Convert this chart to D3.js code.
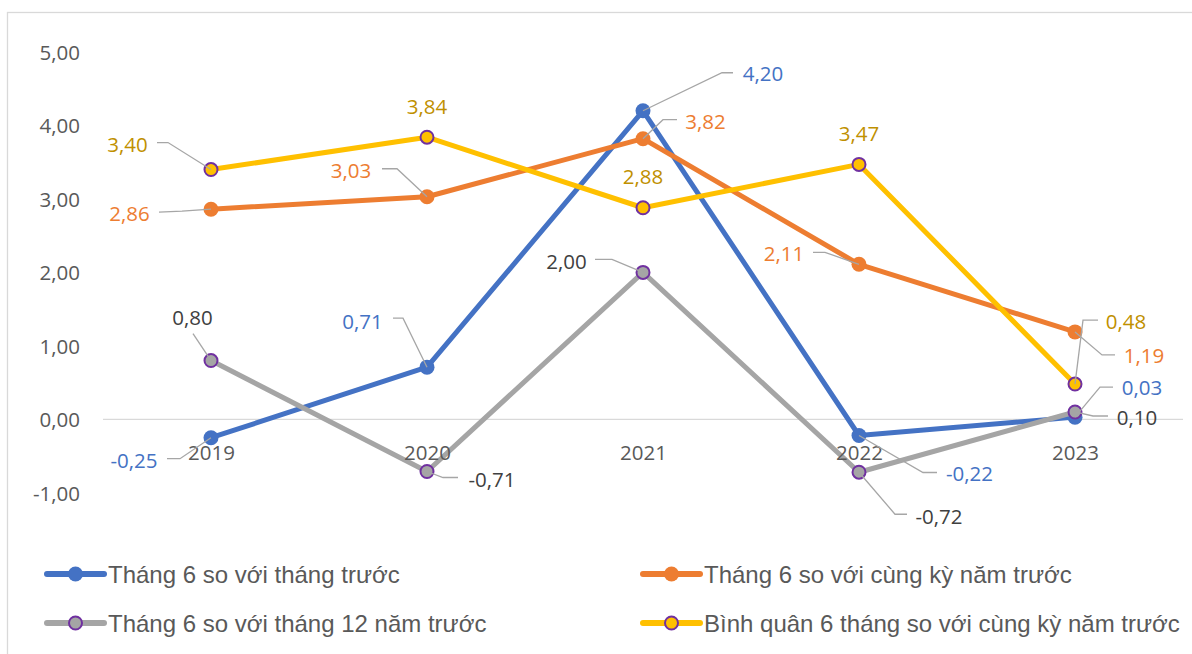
<!DOCTYPE html>
<html>
<head>
<meta charset="utf-8">
<script src="https://cdn.jsdelivr.net/npm/d3@7"></script>
<style>
  html, body { margin: 0; padding: 0; background: #fff; }
  svg { display: block; }
</style>
</head>
<body>
<svg id="chart" width="1192" height="654"></svg>
<script>
// ---------- DATA ----------
const years = ["2019", "2020", "2021", "2022", "2023"];
const thangTruoc = [-0.25, 0.71, 4.20, -0.22, 0.03];
const cungKy = [2.86, 3.03, 3.82, 2.11, 1.19];
const thang12 = [0.80, -0.71, 2.00, -0.72, 0.10];
const binhQuan = [3.40, 3.84, 2.88, 3.47, 0.48];
const yTicks = [-1, 0, 1, 2, 3, 4, 5];
const seriesNames = [
  "Tháng 6 so với tháng trước",
  "Tháng 6 so với cùng kỳ năm trước",
  "Tháng 6 so với tháng 12 năm trước",
  "Bình quân 6 tháng so với cùng kỳ năm trước"
];

// ---------- STYLE / LAYOUT ----------
const styles = [
  { line: "#4472C4", fill: "#4472C4", stroke: "#4472C4", label: "#4472C4" },
  { line: "#ED7D31", fill: "#ED7D31", stroke: "#ED7D31", label: "#ED7D31" },
  { line: "#A5A5A5", fill: "#A5A5A5", stroke: "#7030A0", label: "#404040" },
  { line: "#FFC000", fill: "#FFC000", stroke: "#7030A0", label: "#BF9000" }
];
// label offsets relative to point: text centre [dx,dy], leader polyline after the point
const labelLayout = [
  [ // blue
    { t: [-77, 22], l: [[-31, 21], [-44, 21]] },
    { t: [-64.5, -46], l: [[-24, -49], [-34, -49]] },
    { t: [120, -38], l: [[79, -38], [90, -38]] },
    { t: [110.5, 38], l: [[64, 37], [78, 37]] },
    { t: [67, -30], l: [[25, -30], [38, -30]] }
  ],
  [ // orange
    { t: [-81.5, 4], l: [[-29, 2], [-52, 3]] },
    { t: [-76, -27], l: [[-30, -28], [-45, -28]] },
    { t: [62.5, -17.5], l: [[20, -19], [34, -19]] },
    { t: [-75, -11], l: [[-34, -12], [-46, -12]] },
    { t: [69, 23], l: [[27, 23], [40, 23]] }
  ],
  [ // gray
    { t: [-18.5, -43.5], l: [[-18, -27]] },
    { t: [65, 8], l: [[16, 6], [31, 6]] },
    { t: [-76.5, -11], l: [[-31, -13], [-48, -13]] },
    { t: [80, 44], l: [[36, 42], [48, 42]] },
    { t: [62, 5], l: [[18, 4], [33, 4]] }
  ],
  [ // yellow
    { t: [-83.5, -26], l: [[-43, -27], [-54, -27]] },
    { t: [0, -31], l: null },
    { t: [0, -31.6], l: null },
    { t: [0, -31], l: null },
    { t: [51, -63], l: [[8, -64], [23, -64]] }
  ]
];

const allSeries = [thangTruoc, cungKy, thang12, binhQuan];
const fmt = v => v.toFixed(2).replace(".", ",");

const svg = d3.select("#chart");
const axisFont = "'Open Sans', 'Noto Sans', sans-serif";
const legendFont = "'Liberation Sans', Arial, sans-serif";

// chart border
svg.append("rect")
  .attr("x", 7.5).attr("y", 12.5)
  .attr("width", 1200).attr("height", 700)
  .attr("fill", "#fff").attr("stroke", "#D9D9D9").attr("stroke-width", 1.3);

const x = d3.scalePoint().domain(years).range([103, 1183]).padding(0.5);
const y = d3.scaleLinear().domain([-1, 5]).range([492.8, 52]);

// y axis labels
const yAxis = d3.axisLeft(y).tickValues(yTicks).tickFormat(fmt).tickSize(0).tickPadding(0);
const yg = svg.append("g").attr("transform", "translate(80,0)").call(yAxis);
yg.select(".domain").remove();
yg.selectAll("text")
  .attr("font-family", axisFont).attr("font-size", "20.5px")
  .attr("fill", "#595959").attr("dy", "0.36em");

// zero line
svg.append("line")
  .attr("x1", 103).attr("x2", 1183)
  .attr("y1", y(0)).attr("y2", y(0))
  .attr("stroke", "#D9D9D9").attr("stroke-width", 1.3);

// series lines + markers
const lineGen = d3.line().x((d, i) => x(years[i])).y(d => y(d));
allSeries.forEach((vals, si) => {
  const st = styles[si];
  svg.append("path")
    .attr("d", lineGen(vals))
    .attr("fill", "none").attr("stroke", st.line)
    .attr("stroke-width", 5).attr("stroke-linejoin", "round").attr("stroke-linecap", "round");
  svg.append("g").selectAll("circle").data(vals).join("circle")
    .attr("cx", (d, i) => x(years[i])).attr("cy", d => y(d))
    .attr("r", st.stroke === st.fill ? 7.5 : 6.5)
    .attr("fill", st.fill).attr("stroke", st.stroke)
    .attr("stroke-width", st.stroke === st.fill ? 0 : 2);
});

// x axis labels (drawn above the lines like the reference)
const xAxis = d3.axisBottom(x).tickSize(0).tickPadding(0);
const xg = svg.append("g").attr("transform", `translate(0,${y(0)})`).call(xAxis);
xg.select(".domain").remove();
xg.selectAll("text")
  .attr("font-family", axisFont).attr("font-size", "20.5px")
  .attr("fill", "#595959").attr("dy", null).attr("y", 33).attr("dominant-baseline", "central");

// data labels + leader lines
allSeries.forEach((vals, si) => {
  const st = styles[si];
  vals.forEach((v, i) => {
    const px = x(years[i]), py = y(v);
    const lay = labelLayout[si][i];
    if (lay.l) {
      const pts = [[px, py]].concat(lay.l.map(p => [px + p[0], py + p[1]]));
      svg.append("path")
        .attr("d", d3.line()(pts))
        .attr("fill", "none").attr("stroke", "#A6A6A6").attr("stroke-width", 1.3);
    }
    svg.append("text")
      .attr("x", px + lay.t[0]).attr("y", py + lay.t[1])
      .attr("text-anchor", "middle").attr("dominant-baseline", "central")
      .attr("font-family", axisFont).attr("font-size", "20.5px")
      .attr("fill", st.label)
      .text(fmt(v));
  });
});

// legend
const legendPos = [[47, 574], [643, 574], [47, 623], [643, 623]];
seriesNames.forEach((name, si) => {
  const st = styles[si];
  const [lx, ly] = legendPos[si];
  const g = svg.append("g").attr("transform", `translate(${lx},${ly})`);
  g.append("line").attr("x1", 0).attr("x2", 57).attr("y1", 0).attr("y2", 0)
    .attr("stroke", st.line).attr("stroke-width", 6).attr("stroke-linecap", "round");
  g.append("circle").attr("cx", 28.5).attr("cy", 0)
    .attr("r", st.stroke === st.fill ? 7.5 : 6.5)
    .attr("fill", st.fill).attr("stroke", st.stroke)
    .attr("stroke-width", st.stroke === st.fill ? 0 : 2);
  g.append("text").attr("x", 61).attr("y", 0)
    .attr("dominant-baseline", "central")
    .attr("font-family", legendFont).attr("font-size", "24px")
    .attr("fill", "#595959").text(name);
});
</script>
</body>
</html>
